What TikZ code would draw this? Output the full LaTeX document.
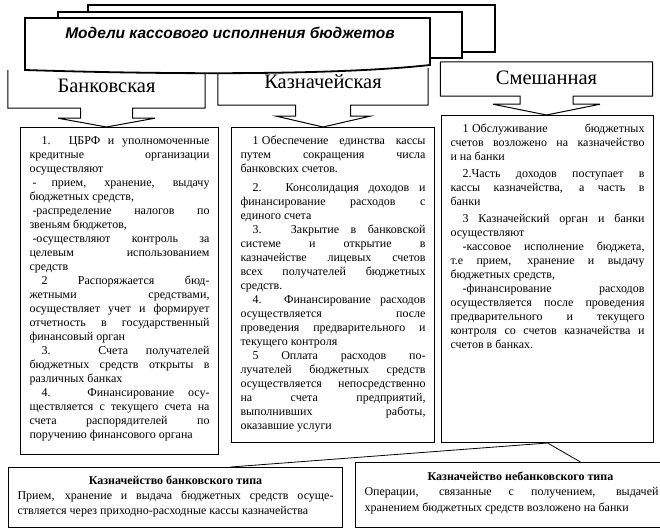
\documentclass[tikz,border=0pt]{standalone}
\usepackage{fontspec}
\setmainfont{Liberation Serif}
\newfontfamily\titlefont{Liberation Sans}
\usetikzlibrary{calc}

% text of a column box: height, width, paragraphs
\newcommand{\colbody}[3]{\parbox[t][#1][t]{#2}{\fontsize{12}{14}\selectfont
  \setlength{\parindent}{12pt}\setlength{\parskip}{0pt}%
  \hyphenpenalty=10000 \exhyphenpenalty=10000 \tolerance=10000 \strut#3}}
\newcommand{\dashpar}{\par\noindent\hspace*{3pt}}

\begin{document}
\begin{tikzpicture}[x=1pt, y=-1pt,
        card/.style={draw, fill=white, line width=1.8pt},
        headtext/.style={inner sep=0pt, font=\fontsize{20.5}{22}\selectfont},
        outline/.style={draw, line width=1pt},
        colbox/.style={draw, fill=white, line width=1pt, anchor=north west, inner xsep=9pt, inner ysep=7pt},
        footbox/.style={draw, fill=white, line width=1pt, anchor=north west, inner xsep=9pt},
        link/.style={line width=0.8pt}
    ]
    \useasboundingbox (0,0) rectangle (660,528);
    \clip (0,0) rectangle (660,528);

    % columns
    \node[colbox] (c1) at (20,127) {\colbody{313pt}{180pt}{%
        1. ЦБРФ и уполномоченные\linebreak кредитные организации\linebreak осуществляют
        \dashpar - прием, хранение, выдачу\linebreak бюджетных средств,
        \dashpar -распределение налогов по\linebreak звеньям бюджетов,
        \dashpar -осуществляют контроль за\linebreak целевым использованием\linebreak средств
        \par 2 Распоряжается бюд-\linebreak жетными средствами,\linebreak осуществляет учет и формирует\linebreak отчетность в государственный\linebreak финансовый орган
        \par 3. Счета получателей\linebreak бюджетных средств открыты в\linebreak различных банках
        \par 4. Финансирование осу-\linebreak ществляется с текущего счета на\linebreak счета распорядителей по\linebreak поручению финансового органа}};
    \node[colbox] (c2) at (231,127) {\colbody{301pt}{185pt}{%
        1\hspace{3.5pt}Обеспечение единства кассы\linebreak путем сокращения числа\linebreak банковских счетов.
        \par\vspace{5pt}
        2. Консолидация доходов и\linebreak финансирование расходов с\linebreak единого счета
        \par 3. Закрытие в банковской\linebreak системе и открытие в\linebreak казначействе лицевых счетов\linebreak всех получателей бюджетных\linebreak средств.
        \par 4. Финансирование расходов\linebreak осуществляется после\linebreak проведения предварительного и\linebreak текущего контроля
        \par 5 Оплата расходов по-\linebreak лучателей бюджетных средств\linebreak осуществляется непосредственно\linebreak на счета предприятий,\linebreak выполнивших работы,\linebreak оказавшие услуги}};
    \node[colbox] (c3) at (441,115) {\colbody{313pt}{194pt}{%
        1\hspace{3.5pt}Обслуживание бюджетных\linebreak счетов возложено на казначейство\linebreak и на банки
        \par\vspace{3pt}
        2.Часть доходов поступает в\linebreak кассы казначейства, а часть в\linebreak банки
        \par\vspace{3pt}
        3 Казначейский орган и банки\linebreak осуществляют
        \par -кассовое исполнение бюджета,\linebreak т.е прием, хранение и выдачу\linebreak бюджетных средств,
        \par -финансирование расходов\linebreak осуществляется после проведения\linebreak предварительного и текущего\linebreak контроля со счетов казначейства и\linebreak счетов в банках.}};

    % headers
    \node[headtext, minimum width=197, text height=22.5pt, text depth=15.5pt] (hb) at (106.5,89) {Банковская};
    \node[headtext, minimum width=210, text height=20.5pt, text depth=16.5pt] (hk) at (323,86.5) {Казначейская};
    \node[headtext, minimum width=212, text height=22.5pt, text depth=11.5pt] (hs) at (546.5,79) {Смешанная};

    \draw[outline] (hb.north west) -- (hb.south west) -- ($(hb.south)+(-26,0)$) -- ++(0,10) -- ++(-22.5,0)
        -- (hb.south |- c1.north) -- ($(hb.south)+(48.5,10)$) -- ++(-22.5,0) -- ++(0,-10)
        -- (hb.south east) -- (hb.north east);
    \draw[outline] (hk.north west) -- (hk.south west) -- ($(hk.south)+(-27.5,0)$) -- ++(0,11) -- ++(-19,0)
        -- (hk.south |- c2.north) -- ($(hk.south)+(47,11)$) -- ++(-19.5,0) -- ++(0,-11)
        -- (hk.south east) -- (hk.north east);
    \draw[outline] (hs.north west) -- (hs.south west) -- ($(hs.south)+(-26.5,0)$) -- ++(0,8) -- ++(-27,0)
        -- (hs.south |- c3.north) -- ($(hs.south)+(53.5,8)$) -- ++(-27,0) -- ++(0,-8)
        -- (hs.south east) -- (hs.north east) -- (hs.north west);

    % title cards
    \draw[card] (88,5) rectangle (495,52);
    \draw[card] (58,12) rectangle (462,58);
    \draw[card] (25,18) -- (430,18) -- (430,65) .. controls (330,76) and (150,74) .. (25,70) -- cycle;
    \node[font=\titlefont\bfseries\itshape\fontsize{15.5}{18}\selectfont] (title) at (230,33) {Модели кассового исполнения бюджетов};

    % bottom boxes
    \node[footbox, inner ysep=8pt] (fl) at (8,467) {\parbox[t][44pt][t]{316pt}{\fontsize{12}{15}\selectfont
        \hyphenpenalty=10000 \tolerance=10000
        {\centering\bfseries Казначейство банковского типа\par}
        \noindent Прием, хранение и выдача бюджетных средств осуще-\linebreak ствляется через приходно-расходные кассы казначейства}};
    \node[footbox, inner ysep=9pt] (fr) at (355,462) {\parbox[t][47pt][t]{312pt}{\fontsize{12}{15.5}\selectfont
        \hyphenpenalty=10000 \tolerance=10000
        {\centering\bfseries Казначейство небанковского типа\par}
        \setlength{\rightskip}{18pt}%
        \noindent Операции, связанные с получением, выдачей\linebreak хранением бюджетных средств возложено на банки}};

    \draw[link] (c3.south) -- ([xshift=55]fl.north);
    \draw[link] (c3.south) -- ([xshift=60]fr.north);
\end{tikzpicture}
\end{document}
